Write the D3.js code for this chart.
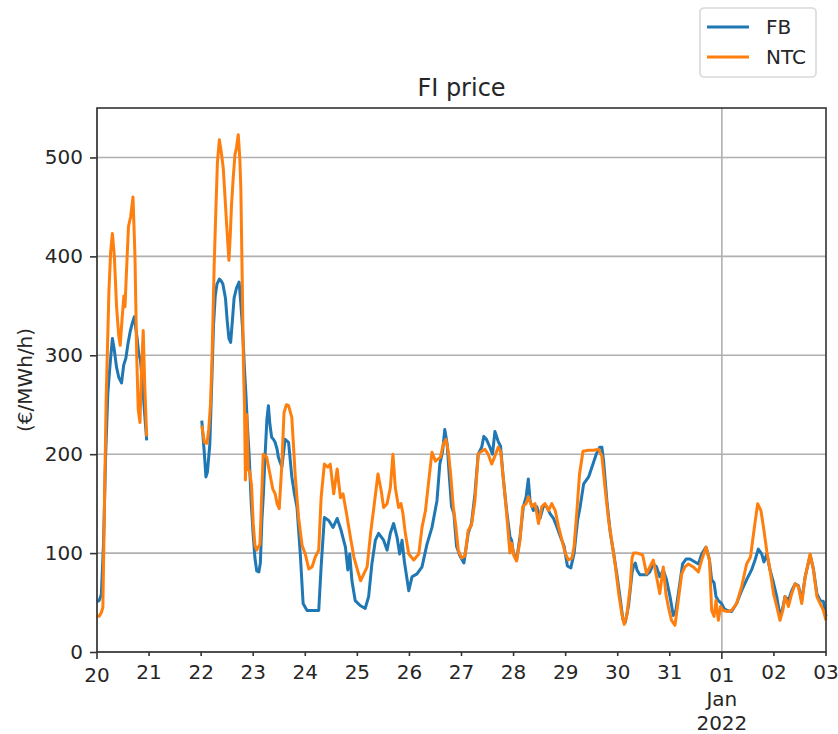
<!DOCTYPE html>
<html>
<head>
<meta charset="utf-8">
<script src="https://cdn.jsdelivr.net/npm/d3@7"></script>
<style>
  body { margin: 0; background: #fff; }
  text { font-family: "DejaVu Sans", sans-serif; fill: #262626; }
</style>
</head>
<body>
<div id="chart"></div>
<script>
// hours after 2021-12-20 00:00, price in €/MWh/h ; null = no data
var fbPrice = [[0,51],[1,52],[2,58],[3,110],[4,200],[5,262],[6,290],[7.1,317],[8,305],[9,288],[10,278],[11.3,272],[12.3,290],[13.3,297],[14.3,312],[15.3,324],[16.2,332],[17.2,339],[18.5,317],[19.3,300],[20,296],[21,270],[22,240],[22.9,214],[23.5,null],
  [48.3,234],[49.5,200],[50.2,177],[50.9,182],[52,210],[53,280],[53.7,330],[54.5,360],[55.3,372],[56.4,377],[57.3,375],[58,372],[59.2,358],[60,335],[60.8,317],[61.6,313],[62.4,335],[63.2,358],[64.3,368],[65.5,374],[66.2,355],[67,330],[68,285],[68.6,262],[69.3,230],[70.1,200],[71.1,150],[72,118],[72.8,95],[73.6,82],[74.6,81],[75.3,90],[76,133],[76.7,160],[77.5,200],[78.3,235],[79,249],[79.7,230],[80.5,217],[81.3,215],[82.1,212],[83,205],[83.6,197],[85.2,187],[86.7,215],[88.3,212],[89.8,177],[91,160],[92.2,146],[93.7,99],[95,49],[96.8,42],[99.9,42],[102.2,42],[103.3,86],[104.8,136],[106.8,133],[108.8,126],[110.7,135],[112.5,123],[114.5,106],[115.6,83],[116.5,99],[117.5,72],[119,52],[121.3,47],[123.6,44],[125.2,56],[126.7,89],[128.3,113],[129.8,120],[132.1,113],[133.7,103],[135.2,120],[136.7,130],[138.3,116],[139.5,99],[140.6,113],[141.7,91],[143.7,62],[145.2,76],[147.5,79],[149.8,86],[152.1,109],[154.4,126],[156.7,153],[158,190],[159.3,203],[160.3,225],[161.4,210],[162.4,177],[163.4,147],[164.5,140],[165.7,107],[167.3,97],[169.1,90],[171.1,120],[172.6,130],[174.2,160],[175.7,200],[177.3,207],[178.3,218],[179.5,215],[181.1,207],[182.3,200],[183.4,223],[184.9,213],[186,208],[187.2,177],[188.8,143],[190.3,117],[191.1,113],[191.9,100],[193.4,93],[195,117],[196.5,147],[197.8,157],[198.8,175],[199.6,153],[201.1,143],[202.7,147],[204.2,135],[205.8,148],[207.3,147],[208.8,140],[210.4,135],[211.9,127],[213.5,117],[215.3,107],[216.8,87],[218.4,85],[219.9,100],[221.5,133],[222.7,147],[224.3,170],[226.6,177],[228.6,190],[230.1,200],[231.7,207],[232.7,207],[233.5,193],[235,153],[236.6,120],[238.1,100],[239.7,77],[241.2,53],[242.4,33],[243.5,30],[245,47],[246.6,80],[247.2,86],[248.1,90],[248.9,83],[250.2,78],[253.3,78],[254.8,81],[256.4,89],[257.9,86],[259.4,76],[261,83],[262.5,73],[264.1,56],[265.6,37],[266.8,42],[268.4,66],[269.9,89],[271.5,94],[273.3,94],[275.6,91],[277.2,89],[278.7,99],[280.7,106],[282.3,93],[283.3,73],[284.4,70],[285.3,56],[286.4,52],[287.9,49],[289,44],[290.5,42],[292.5,41],[294.8,49],[297.1,62],[299.4,73],[301.7,83],[303.3,93],[304.8,104],[306.4,99],[307.4,91],[308.7,99],[310.2,83],[311.8,70],[313.3,56],[314.8,36],[316.1,45],[317.1,56],[318.7,52],[320.2,62],[321.8,69],[323.3,67],[324.8,52],[326.4,76],[328.7,98],[330.2,84],[331.8,59],[333.3,52],[334.8,51],[336,36]];

var ntcPrice = [[0,37],[1,36],[2,40],[2.7,45],[3.5,158],[4.2,254],[5.5,365],[6.3,405],[7.1,423],[8,400],[9,350],[10,320],[10.7,310],[11.5,335],[12.4,360],[12.9,349],[13.6,385],[14.5,430],[15.5,440],[16.6,460],[17.5,400],[18.3,300],[19,245],[19.8,232],[20.6,290],[21.3,325],[22,270],[22.9,218],[23.5,null],
  [48.3,229],[49.5,212],[50.7,211],[51.5,225],[52.3,250],[53,296],[54,390],[54.6,434],[55.5,495],[56.4,518],[57.3,505],[58.2,489],[59,460],[59.7,434],[60.8,396],[61.4,420],[62,452],[62.8,480],[63.6,503],[64.3,510],[65.1,523],[65.8,500],[66.3,469],[67,366],[67.5,290],[68,248],[68.4,174],[69,240],[69.7,185],[70.4,182],[71.2,169],[72,130],[72.8,108],[73.6,103],[75.1,109],[76.6,200],[78.2,197],[79.7,180],[81,165],[82.1,160],[83,150],[84,145],[85.2,190],[86.2,242],[87.3,250],[88.3,249],[89.8,237],[91.4,177],[92.9,136],[94.5,108],[96,99],[97.6,84],[99.1,86],[100.6,96],[102.2,103],[103.3,156],[104.8,190],[106.4,187],[107.5,190],[109.1,160],[110.7,185],[112.2,156],[113.4,160],[115,140],[116.8,116],[118.4,96],[119.9,84],[121.5,72],[123,79],[124.5,86],[126.1,120],[127.6,146],[129.5,180],[131,163],[132.1,146],[133.7,150],[135.2,166],[136.4,200],[137.5,166],[139,146],[140.1,150],[141,140],[142.1,120],[143.7,99],[146,93],[148.3,99],[149.8,126],[151.4,143],[152.9,173],[154.4,202],[156,193],[158.3,197],[159.6,210],[160.8,215],[161.9,203],[163,180],[164.2,147],[165.4,127],[166.5,103],[168,95],[169.6,97],[171.1,123],[172.6,128],[174.2,153],[175.7,200],[177.3,203],[178.8,205],[180.3,200],[181.9,190],[183.4,198],[184.9,207],[186,203],[187.2,177],[188.8,140],[190.3,100],[191.1,110],[192.2,97],[193.4,92],[195,113],[196.2,147],[197.8,150],[198.8,157],[200.4,147],[201.9,150],[203.5,130],[205,147],[206.5,150],[208.1,143],[209.6,150],[211.2,143],[212.7,127],[214.3,113],[215.8,100],[217.3,93],[218.9,95],[219.9,107],[221.2,143],[222.4,180],[224,203],[226.6,204],[228.9,204],[231.2,205],[232.7,198],[234.3,163],[235.8,133],[237.4,110],[238.9,87],[240.4,60],[242,37],[243,28],[244.2,37],[245.8,67],[246.6,95],[247.3,100],[249,100],[250.4,99],[251.5,98],[253.3,79],[254.8,86],[256.4,93],[257.9,76],[259.4,59],[261,86],[262.2,59],[263.3,46],[264.8,32],[266.4,27],[267.9,52],[269.5,79],[271,86],[272.6,89],[274.8,86],[277.2,81],[278.7,93],[280.7,106],[282.3,93],[283.3,42],[284.4,36],[285.3,52],[286.4,32],[287.4,46],[288.6,42],[290.5,41],[292.5,42],[294.8,49],[297.1,66],[299.4,89],[301.2,96],[302.8,123],[304.5,150],[306,143],[307.4,123],[308.9,99],[310.2,83],[311.8,59],[313.3,46],[314.8,32],[316.1,42],[317.1,56],[318.7,46],[320.2,59],[321.8,69],[323.3,66],[324.8,49],[326.4,76],[328.7,99],[330.2,83],[331.8,56],[333.3,49],[334.8,42],[336,32]];

var seriesNames = ["FB", "NTC"];
var seriesColors = ["#1f77b4", "#ff7f0e"];
var yTicks = [0, 100, 200, 300, 400, 500];
var startDay = Date.UTC(2021, 11, 20);

var W = 838, H = 734;
var m = {left: 97, top: 108, right: 12, bottom: 82};
var iw = W - m.left - m.right, ih = H - m.top - m.bottom;

var svg = d3.select("#chart").append("svg").attr("width", W).attr("height", H);

var x = d3.scaleUtc()
    .domain([new Date(startDay), new Date(Date.UTC(2022, 0, 3))])
    .range([m.left, m.left + iw]);
var y = d3.scaleLinear().domain([0, 550]).range([m.top + ih, m.top]);

function toDate(h) { return new Date(startDay + h * 3600e3); }

// grid
svg.append("g").selectAll("line").data(yTicks).join("line")
    .attr("x1", m.left).attr("x2", m.left + iw)
    .attr("y1", d => y(d)).attr("y2", d => y(d))
    .attr("stroke", "#b0b0b0").attr("stroke-width", 1.6);
var majorDays = [new Date(startDay), new Date(Date.UTC(2022, 0, 1))];
svg.append("g").selectAll("line").data(majorDays).join("line")
    .attr("x1", d => x(d)).attr("x2", d => x(d))
    .attr("y1", m.top).attr("y2", m.top + ih)
    .attr("stroke", "#b0b0b0").attr("stroke-width", 1.6);

// lines
var line = d3.line()
    .defined(d => d[1] != null)
    .x(d => x(toDate(d[0])))
    .y(d => y(d[1]));

[fbPrice, ntcPrice].forEach(function (s, i) {
    svg.append("path").datum(s)
        .attr("fill", "none")
        .attr("stroke", seriesColors[i])
        .attr("stroke-width", 3)
        .attr("stroke-linejoin", "round")
        .attr("d", line);
});

// frame
svg.append("rect")
    .attr("x", m.left).attr("y", m.top).attr("width", iw).attr("height", ih)
    .attr("fill", "none").attr("stroke", "#333").attr("stroke-width", 1.6);

// y axis
var yAxis = svg.append("g").attr("transform", "translate(" + m.left + ",0)")
    .call(d3.axisLeft(y).tickValues(yTicks).tickSize(7).tickPadding(7));
yAxis.select(".domain").remove();
yAxis.selectAll("line").attr("stroke", "#333").attr("stroke-width", 1.6);
yAxis.selectAll("text").style("font-size", "20px").attr("fill", "#262626");

// x axis: daily minor ticks, majors at 20 and 01
var days = d3.utcDay.range(new Date(startDay), new Date(Date.UTC(2022, 0, 3, 1)));
var xg = svg.append("g").attr("transform", "translate(0," + (m.top + ih) + ")");
var isMajor = d => d.getUTCDate() == 20 || d.getUTCDate() == 1;
var fmt = d3.utcFormat("%d");
var tk = xg.selectAll("g").data(days).join("g")
    .attr("transform", d => "translate(" + x(d) + ",0)");
tk.append("line").attr("y2", d => isMajor(d) ? 7 : 4)
    .attr("stroke", "#333").attr("stroke-width", 1.6);
tk.append("text")
    .attr("text-anchor", "middle")
    .attr("y", d => (isMajor(d) ? 7 : 4) + 7 + 16)
    .style("font-size", "20px")
    .text(d => fmt(d));
var jan = tk.filter(d => d.getUTCDate() == 1);
jan.append("text").attr("text-anchor", "middle").attr("y", 14 + 16 + 24)
    .style("font-size", "20px").text("Jan");
jan.append("text").attr("text-anchor", "middle").attr("y", 14 + 16 + 48)
    .style("font-size", "20px").text("2022");

// labels
svg.append("text")
    .attr("x", m.left + iw / 2).attr("y", m.top - 12)
    .attr("text-anchor", "middle").style("font-size", "24px")
    .text("FI price");
svg.append("text")
    .attr("transform", "translate(32," + (m.top + ih / 2) + ") rotate(-90)")
    .attr("text-anchor", "middle").style("font-size", "20px")
    .text("(€/MWh/h)");

// legend
var lg = svg.append("g").attr("transform", "translate(700,8)");
lg.append("rect").attr("width", 116).attr("height", 69).attr("rx", 4)
    .attr("fill", "#fff").attr("stroke", "#d9d9d9").attr("stroke-width", 1.6);
seriesNames.forEach(function (n, i) {
    lg.append("line").attr("x1", 7).attr("x2", 49)
        .attr("y1", 19 + i * 30).attr("y2", 19 + i * 30)
        .attr("stroke", seriesColors[i]).attr("stroke-width", 3);
    lg.append("text").attr("x", 66).attr("y", 26 + i * 30)
        .style("font-size", "20px").text(n);
});
</script>
</body>
</html>
